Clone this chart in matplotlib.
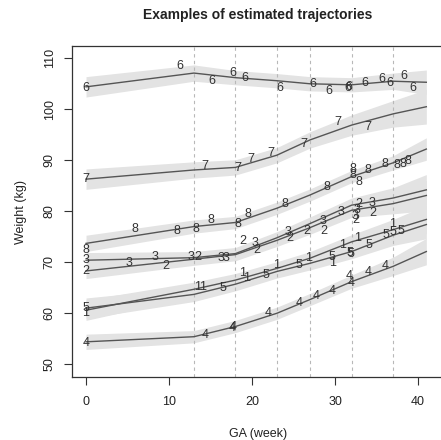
import matplotlib.pyplot as plt
import numpy as np

plt.rcParams['font.family'] = ['Liberation Sans', 'DejaVu Sans']

# spline knots (weeks) shared by every fitted trajectory
knots = [0, 13, 18, 23, 27, 32, 37, 41]

# fitted weight at each knot, per subject
fit_1 = [60.6, 64.7, 66.5, 68.8, 70.8, 74.0, 76.4, 78.4]
fit_2 = [68.3, 70.6, 71.5, 74.3, 76.8, 80.2, 81.5, 83.1]
fit_3 = [70.4, 70.9, 71.7, 74.8, 77.6, 81.2, 82.6, 84.2]
fit_4 = [54.4, 55.4, 57.4, 60.0, 62.7, 66.2, 69.2, 72.1]
fit_5 = [61.0, 63.7, 65.7, 68.2, 69.8, 72.1, 75.3, 77.4]
fit_6 = [104.4, 107.1, 106.2, 105.6, 105.0, 104.8, 105.5, 105.3]
fit_7 = [86.3, 88.1, 88.6, 91.0, 94.0, 96.9, 99.1, 100.5]
fit_8 = [73.7, 77.0, 77.8, 80.6, 83.2, 86.8, 89.5, 92.2]

# half-width of the interval band at each knot
band_1 = [2.0, 1.4, 1.3, 1.3, 1.3, 1.4, 2.0, 2.8]
band_2 = [1.5, 1.2, 1.2, 1.2, 1.3, 1.4, 2.0, 3.0]
band_3 = [1.5, 1.2, 1.2, 1.2, 1.3, 1.4, 2.0, 3.0]
band_4 = [1.5, 1.2, 1.2, 1.2, 1.2, 1.3, 1.8, 2.6]
band_5 = [2.0, 1.4, 1.3, 1.3, 1.3, 1.4, 2.0, 2.8]
band_6 = [2.0, 1.6, 1.4, 1.4, 1.4, 1.4, 1.6, 2.4]
band_7 = [2.0, 1.6, 1.5, 1.5, 1.6, 2.0, 2.6, 3.4]
band_8 = [1.6, 1.3, 1.2, 1.2, 1.2, 1.2, 1.4, 2.2]

# observed visits: gestational week and weight
wk_1 = [0, 13.5, 14.1, 18.9, 19.4, 22.9, 26.8, 29.7, 30.9, 32.7, 36.9]
wt_1 = [60.0, 65.2, 65.1, 67.8, 66.9, 69.5, 70.8, 69.9, 73.4, 74.7, 77.6]
wk_2 = [0, 9.6, 13.5, 18.9, 20.6, 24.6, 26.6, 28.6, 32.5, 32.9, 34.5]
wt_2 = [68.3, 69.3, 71.1, 74.2, 72.5, 74.7, 76.1, 76.1, 78.3, 81.4, 79.7]
wk_3 = [0, 5.2, 8.3, 12.6, 16.3, 16.9, 20.3, 24.3, 28.5, 30.7, 32.4, 32.7, 34.4]
wt_3 = [70.4, 69.9, 71.0, 71.1, 70.9, 70.9, 73.7, 76.0, 78.1, 79.9, 79.0, 80.3, 81.6]
wk_4 = [0, 14.3, 17.6, 17.7, 22.0, 25.7, 27.7, 29.7, 31.7, 32.0, 34.0, 36.1]
wt_4 = [54.2, 55.7, 57.2, 57.3, 60.0, 62.1, 63.4, 64.4, 67.3, 66.0, 68.0, 69.3]
wk_5 = [0, 16.5, 21.7, 25.6, 29.6, 31.8, 31.9, 34.1, 36.1, 37.0, 37.9]
wt_5 = [61.1, 64.9, 67.5, 69.5, 71.1, 71.9, 71.6, 73.4, 75.4, 76.0, 76.1]
wk_6 = [0, 11.3, 15.2, 17.7, 19.2, 23.3, 27.3, 29.3, 31.6, 31.7, 33.6, 35.7, 36.6, 38.3, 39.4]
wt_6 = [104.2, 108.4, 105.6, 107.1, 106.2, 104.2, 104.9, 103.5, 104.2, 104.3, 105.2, 105.9, 105.2, 106.5, 104.2]
wk_7 = [0, 14.3, 18.3, 19.9, 22.3, 26.3, 30.3, 33.9]
wt_7 = [86.3, 88.8, 88.4, 90.2, 91.4, 93.2, 97.6, 96.5]
wk_8 = [0, 5.9, 10.9, 13.3, 15.1, 18.3, 19.5, 24.0, 29.0, 32.1, 32.1, 32.9, 34.0, 36.0, 37.4, 38.2, 38.8]
wt_8 = [72.5, 76.5, 76.2, 76.5, 78.3, 77.6, 79.4, 81.4, 84.8, 88.3, 87.1, 85.8, 88.1, 89.3, 89.1, 89.3, 89.9]

subjects = [
    (1, fit_1, band_1, wk_1, wt_1),
    (2, fit_2, band_2, wk_2, wt_2),
    (3, fit_3, band_3, wk_3, wt_3),
    (4, fit_4, band_4, wk_4, wt_4),
    (5, fit_5, band_5, wk_5, wt_5),
    (6, fit_6, band_6, wk_6, wt_6),
    (7, fit_7, band_7, wk_7, wt_7),
    (8, fit_8, band_8, wk_8, wt_8),
]

fig = plt.figure(figsize=(4.41, 4.40), dpi=100)
ax = fig.add_axes([72 / 441, 63 / 440, 373 / 441, 331 / 440])

for sid, fit, band, wk, wt in subjects:
    fit = np.array(fit)
    band = np.array(band)
    ax.fill_between(knots, fit - band, fit + band, color='#e3e3e3', lw=0, zorder=1)

for k in knots[1:-1]:
    ax.axvline(k, color='#b8b8b8', lw=0.8, ls=(0, (3, 3)), zorder=2)

for sid, fit, band, wk, wt in subjects:
    ax.plot(knots, fit, color='#555555', lw=1.0, zorder=3)
    for x, y in zip(wk, wt):
        ax.text(x, y, str(sid), ha='center', va='center', fontsize=9,
                color='#333333', zorder=4)

ax.set_xlim(-1.687, 43.25)
ax.set_ylim(47.5, 112.41)
ax.set_xticks([0, 10, 20, 30, 40])
ax.set_yticks([50, 60, 70, 80, 90, 100, 110])
ax.tick_params(direction='out', length=5.8, width=0.8, color='#333333',
               labelsize=9, labelcolor='#222222')
ax.tick_params(axis='x', pad=8)
ax.tick_params(axis='y', pad=6, labelrotation=90)
for lab in ax.get_yticklabels():
    lab.set_va('center')

for side in ['left', 'bottom', 'top', 'right']:
    ax.spines[side].set_color('#333333')
    ax.spines[side].set_linewidth(0.9)

ax.set_xlabel('GA (week)', fontsize=9, color='#222222', labelpad=14)
ax.set_ylabel('Weight (kg)', fontsize=9, color='#222222', labelpad=12)
fig.text(258 / 441, 1 - 15 / 440, 'Examples of estimated trajectories',
         ha='center', va='center', fontsize=10, fontweight='bold', color='#222222')

fig.savefig('out.png', dpi=100)
